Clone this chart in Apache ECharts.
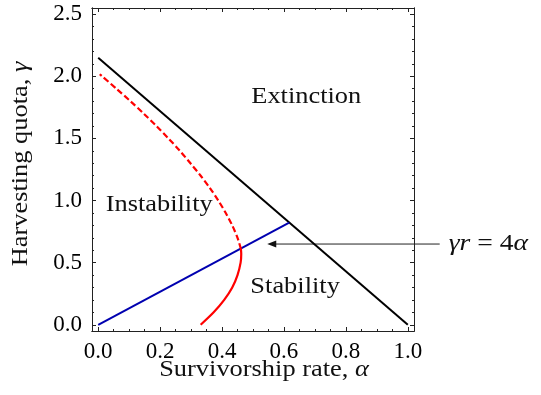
<!DOCTYPE html>
<html>
<head>
<meta charset="utf-8">
<script src="https://cdn.jsdelivr.net/npm/echarts@6/dist/echarts.min.js"></script>
<style>
  html, body { margin: 0; padding: 0; background: #fff; }
  #main { width: 541px; height: 395px; }
</style>
</head>
<body>
<div id="main"></div>
<script>
// tick values
var xMajor = [0, 0.2, 0.4, 0.6, 0.8, 1.0];
var xMinor = [0.05, 0.1, 0.15, 0.25, 0.3, 0.35, 0.45, 0.5, 0.55, 0.65, 0.7, 0.75, 0.85, 0.9, 0.95];
var yMajor = [0, 0.5, 1.0, 1.5, 2.0, 2.5];
var yMinor = [0.1, 0.2, 0.3, 0.4, 0.6, 0.7, 0.8, 0.9, 1.1, 1.2, 1.3, 1.4, 1.6, 1.7, 1.8, 1.9, 2.1, 2.2, 2.3, 2.4];

// extinction boundary (black)
var extAlpha = [0, 1.0];
var extGamma = [2.15, 0];

// gamma r = 4 alpha (blue), r = 3
var critAlpha = [0, 0.617];
var critGamma = [0, 0.823];

// stable branch (red, solid)
var stabAlpha = [0.331, 0.373, 0.407, 0.433, 0.450, 0.460, 0.462, 0.461];
var stabGamma = [0, 0.10, 0.20, 0.30, 0.40, 0.50, 0.57, 0.61];

// unstable branch (red, dashed)
var unstAlpha = [0.461, 0.450, 0.433, 0.412, 0.388, 0.361, 0.331, 0.298, 0.264, 0.227, 0.188, 0.147, 0.104, 0.059, 0.005];
var unstGamma = [0.61, 0.70, 0.80, 0.90, 1.00, 1.10, 1.20, 1.30, 1.40, 1.50, 1.60, 1.70, 1.80, 1.90, 2.017];

// region labels [alpha, gamma]
var regionNames = ['Extinction', 'Instability', 'Stability'];
var regionPos = [[0.672, 1.834], [0.197, 0.965], [0.636, 0.306]];
var arrowFrom = [1.103, 0.65];
var arrowTo = [0.546, 0.65];

function pairs(a, b) {
  return a.map(function (v, i) { return [v, b[i]]; });
}

var FONT = '"Liberation Serif", serif';
var X_MIN = -0.02, X_MAX = 1.02, Y_MIN = -0.05, Y_MAX = 2.55;

function xAx(pos, vals, len, lbl) {
  return {
    type: 'value', position: pos, min: X_MIN, max: X_MAX,
    axisLine: { show: true, onZero: false, lineStyle: { color: '#222', width: 1 } },
    axisTick: { show: true, inside: true, length: len, customValues: vals, lineStyle: { color: '#222', width: 1 } },
    axisLabel: lbl ? {
      show: true, customValues: vals, margin: 9, color: '#000',
      fontFamily: FONT, fontSize: 23,
      formatter: function (v) { return v.toFixed(1); }
    } : { show: false },
    splitLine: { show: false }
  };
}
function yAx(pos, vals, len, lbl) {
  return {
    type: 'value', position: pos, min: Y_MIN, max: Y_MAX,
    axisLine: { show: true, onZero: false, lineStyle: { color: '#222', width: 1 } },
    axisTick: { show: true, inside: true, length: len, customValues: vals, lineStyle: { color: '#222', width: 1 } },
    axisLabel: lbl ? {
      show: true, customValues: vals, margin: 10, color: '#000',
      fontFamily: FONT, fontSize: 23,
      formatter: function (v) { return v.toFixed(1); }
    } : { show: false },
    splitLine: { show: false }
  };
}

var myChart = echarts.init(document.getElementById('main'));
var option = {
  animation: false,
  backgroundColor: '#fff',
  grid: { left: 92, top: 8, width: 322, height: 323 },
  xAxis: [
    xAx('bottom', xMajor, 4, true),
    xAx('bottom', xMinor, 2, false),
    xAx('top', xMajor, 4, false),
    xAx('top', xMinor, 2, false)
  ],
  yAxis: [
    yAx('left', yMajor, 4, true),
    yAx('left', yMinor, 2, false),
    yAx('right', yMajor, 4, false),
    yAx('right', yMinor, 2, false)
  ],
  series: [
    {
      type: 'line', data: pairs(extAlpha, extGamma), showSymbol: false,
      lineStyle: { color: '#000', width: 2 }
    },
    {
      type: 'line', data: pairs(critAlpha, critGamma), showSymbol: false,
      lineStyle: { color: '#0000b0', width: 2 }
    },
    {
      type: 'line', data: pairs(stabAlpha, stabGamma), showSymbol: false, smooth: 0.3,
      lineStyle: { color: '#ff0000', width: 2.2 }
    },
    {
      type: 'line', data: pairs(unstAlpha, unstGamma), showSymbol: false, smooth: 0.3,
      lineStyle: { color: '#ff0000', width: 2.2, type: [6, 3] }
    }
  ]
};
myChart.setOption(option);

// annotations placed from data coordinates
function px(p) { return myChart.convertToPixel({ seriesIndex: 0 }, p); }
var g = [];
regionNames.forEach(function (name, i) {
  var p = px(regionPos[i]);
  g.push({
    type: 'text', x: p[0], y: p[1], scaleX: 1.1,
    style: { text: name, font: '24px ' + FONT, fill: '#111', align: 'center', verticalAlign: 'middle' }
  });
});
var a0 = px(arrowFrom), a1 = px(arrowTo);
g.push({
  type: 'line', shape: { x1: a0[0], y1: a0[1], x2: a1[0] + 6, y2: a1[1] },
  style: { stroke: '#222', lineWidth: 1 }
});
g.push({
  type: 'polygon',
  shape: { points: [[a1[0], a1[1]], [a1[0] + 9, a1[1] - 3.5], [a1[0] + 9, a1[1] + 3.5]] },
  style: { fill: '#111' }
});
g.push({
  type: 'text', x: a0[0] + 9, y: a0[1], scaleX: 1.15,
  style: {
    text: '{i|γr} = 4{i|α}', font: '24px ' + FONT, fill: '#111', verticalAlign: 'middle',
    rich: { i: { fontStyle: 'italic', fontFamily: FONT, fontSize: 24 } }
  }
});
// axis titles
g.push({
  type: 'text', x: 264, y: 370, scaleX: 1.1,
  style: {
    text: 'Survivorship rate, {i|α}', font: '24px ' + FONT, fill: '#111',
    align: 'center', verticalAlign: 'middle',
    rich: { i: { fontStyle: 'italic', fontFamily: FONT, fontSize: 24 } }
  }
});
g.push({
  type: 'text', x: 21, y: 164, rotation: Math.PI / 2, scaleX: 1.1,
  style: {
    text: 'Harvesting quota, {i|γ}', font: '24px ' + FONT, fill: '#111',
    align: 'center', verticalAlign: 'middle',
    rich: { i: { fontStyle: 'italic', fontFamily: FONT, fontSize: 24 } }
  }
});
myChart.setOption({ graphic: g });

window.addEventListener('resize', function () { myChart.resize(); });
</script>
</body>
</html>
